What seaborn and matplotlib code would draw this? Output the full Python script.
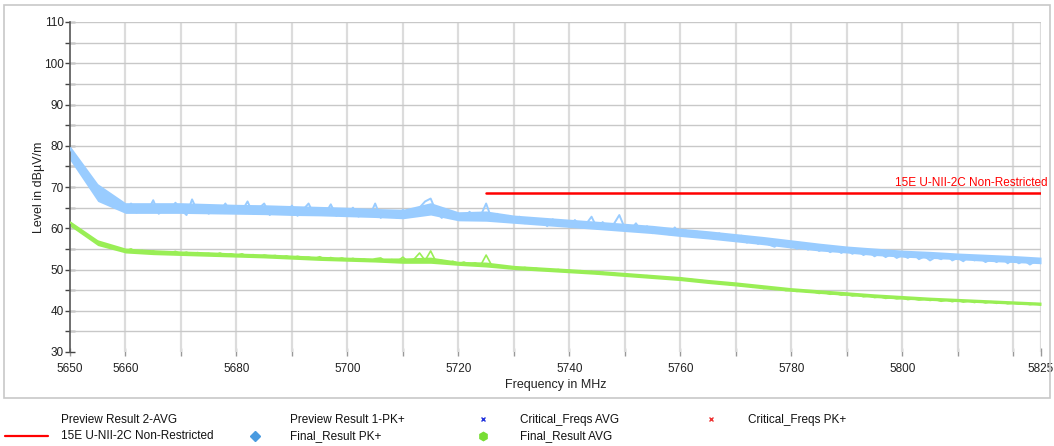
import numpy as np
import pandas as pd
import matplotlib
matplotlib.use("Agg")
import matplotlib.pyplot as plt
from matplotlib.lines import Line2D
from matplotlib.patches import Rectangle
import seaborn as sns

# ---------------- data ----------------
freq_start = 5650
freq_stop = 5825
freq_step = 1

pk_values = [
    79.5, 76.5, 75.0, 73.0, 71.5, 69.0, 67.5, 66.0, 65.0, 66.5,
    64.0, 66.0, 63.8, 65.5, 64.2, 66.8, 63.5, 65.0, 64.0, 66.2,
    64.5, 63.2, 67.0, 64.0, 65.5, 63.5, 65.2, 64.0, 66.0, 63.8,
    65.0, 64.2, 66.5, 63.5, 64.8, 66.0, 63.2, 65.0, 64.0, 63.5,
    65.5, 63.0, 64.5, 66.0, 63.2, 64.8, 63.5, 65.8, 63.0, 64.2,
    63.5, 65.0, 62.8, 64.5, 63.0, 66.0, 62.5, 64.0, 63.2, 62.5,
    64.5, 62.8, 63.5, 65.0, 66.5, 67.2, 64.0, 62.5, 64.0, 62.8,
    63.5, 62.0, 64.0, 62.5, 63.0, 66.0, 62.2, 63.5, 61.8, 63.0,
    61.5, 62.8, 61.2, 62.5, 61.0, 62.0, 60.5, 62.2, 60.8, 61.5,
    60.5, 62.0, 60.2, 61.0, 62.8, 60.0, 61.5, 59.8, 61.0, 63.2,
    60.0, 59.5, 61.2, 59.2, 60.5, 58.8, 60.0, 59.0, 58.5, 60.2,
    58.5, 59.5, 58.0, 59.2, 57.8, 58.5, 57.5, 58.8, 57.2, 58.0,
    57.0, 58.2, 56.5, 57.5, 56.2, 57.2, 56.0, 55.5, 57.0, 55.8,
    56.2, 55.0, 56.0, 54.8, 55.8, 54.5, 55.2, 54.2, 55.0, 54.0,
    54.8, 53.8, 54.5, 53.5, 54.2, 53.2, 54.0, 53.0, 53.8, 52.8,
    53.5, 52.8, 53.8, 52.5, 53.2, 52.2, 53.0, 52.5, 53.5, 52.2,
    52.8, 52.0, 53.2, 52.2, 52.8, 51.8, 52.5, 51.8, 52.8, 51.5,
    52.5, 51.5, 52.2, 51.2, 52.0, 51.5,
]

avg_values = [
    61.5, 60.0, 59.0, 58.2, 57.2, 56.8, 56.0, 55.8, 55.2, 55.0,
    54.5, 55.0, 54.2, 54.6, 54.0, 54.5, 53.8, 54.3, 54.0, 54.4,
    53.8, 54.2, 53.6, 54.1, 53.7, 53.9, 53.4, 54.0, 53.5, 53.8,
    53.4, 53.8, 53.2, 53.6, 53.0, 53.5, 53.2, 53.4, 52.9, 53.3,
    52.8, 53.2, 52.9, 53.0, 52.6, 53.1, 52.5, 52.9, 52.4, 52.8,
    52.3, 52.7, 52.2, 52.5, 52.0, 52.6, 52.8, 51.9, 52.4, 52.0,
    53.0, 51.8, 52.5, 54.0, 52.2, 54.5, 51.8, 52.2, 51.5, 52.0,
    51.4, 51.8, 51.2, 51.6, 51.0, 53.5, 51.0, 50.6, 50.8, 50.3,
    50.6, 50.2, 50.5, 50.0, 50.3, 49.9, 50.1, 49.7, 50.0, 49.6,
    49.8, 49.4, 49.7, 49.2, 49.5, 49.0, 49.3, 48.9, 49.1, 48.7,
    48.9, 48.5, 48.7, 48.3, 48.5, 48.1, 48.2, 47.9, 48.0, 47.7,
    48.0, 47.5, 47.6, 47.2, 47.3, 46.9, 47.0, 46.6, 46.7, 46.3,
    46.5, 46.0, 46.2, 45.7, 45.9, 45.4, 45.6, 45.2, 45.3, 44.9,
    45.0, 44.7, 44.9, 44.5, 44.6, 44.2, 44.4, 44.0, 44.2, 43.8,
    44.0, 43.6, 43.8, 43.4, 43.6, 43.2, 43.4, 43.0, 43.2, 42.9,
    43.1, 42.7, 42.9, 42.6, 42.8, 42.5, 42.7, 42.3, 42.6, 42.2,
    42.5, 42.1, 42.4, 42.0, 42.3, 41.9, 42.2, 41.8, 42.1, 41.7,
    41.9, 41.6, 41.8, 41.5, 41.7, 41.4,
]

# noise-band envelopes read every 5 MHz
band_step = 5
pk_band_lo = [76.5, 66.5, 63.6, 63.6, 63.6, 63.5, 63.4, 63.3, 63.1, 63.0,
              62.8, 62.6, 62.3, 63.2, 61.8, 61.7, 61.2, 60.7, 60.2, 59.7,
              59.2, 58.7, 58.0, 57.4, 56.7, 56.0, 55.2, 54.5, 54.0, 53.4,
              53.0, 52.7, 52.4, 52.0, 51.7, 51.4]
pk_band_hi = [80.0, 70.8, 66.2, 66.2, 66.2, 66.0, 65.8, 65.7, 65.5, 65.3,
              65.1, 64.8, 64.6, 66.2, 64.0, 64.2, 63.2, 62.7, 62.2, 61.7,
              61.2, 60.7, 60.0, 59.4, 58.7, 58.0, 57.2, 56.4, 55.7, 55.2,
              54.7, 54.4, 54.0, 53.7, 53.4, 53.0]
avg_band_lo = [60.5, 55.8, 54.0, 53.6, 53.4, 53.2, 53.0, 52.8, 52.5, 52.2,
               52.0, 51.8, 51.5, 51.5, 51.0, 50.6, 50.0, 49.6, 49.2, 48.8,
               48.3, 47.8, 47.3, 46.6, 46.0, 45.3, 44.7, 44.2, 43.7, 43.2,
               42.8, 42.5, 42.2, 41.9, 41.6, 41.3]
avg_band_hi = [61.8, 57.2, 55.2, 54.8, 54.5, 54.3, 54.0, 53.8, 53.5, 53.2,
               53.0, 52.8, 52.8, 53.0, 52.0, 51.8, 51.0, 50.6, 50.2, 49.8,
               49.3, 48.8, 48.3, 47.6, 47.0, 46.3, 45.6, 45.1, 44.6, 44.1,
               43.7, 43.3, 43.0, 42.7, 42.4, 42.1]

limit_freqs = [5725, 5825]
limit_levels = [68.5, 68.5]
limit_name = "15E U-NII-2C Non-Restricted"

x_tick_values = [5650, 5660, 5670, 5680, 5690, 5700, 5710, 5720, 5730, 5740,
                 5750, 5760, 5770, 5780, 5790, 5800, 5810, 5820, 5825]
x_tick_labels = ["5650", "5660", "", "5680", "", "5700", "", "5720", "", "5740",
                 "", "5760", "", "5780", "", "5800", "", "", "5825"]
y_major = [30, 40, 50, 60, 70, 80, 90, 100, 110]
y_minor = [35, 45, 55, 65, 75, 85, 95, 105]

legend_row1 = ["Preview Result 2-AVG", "Preview Result 1-PK+", "Critical_Freqs AVG", "Critical_Freqs PK+"]
legend_row2 = [limit_name, "Final_Result PK+", "Final_Result AVG", ""]

# ---------------- style ----------------
sns.set_theme(style="white")
plt.rcParams["font.family"] = ["Liberation Sans", "DejaVu Sans"]

PK_COLOR = "#99ccff"
AVG_COLOR = "#99ee55"

freqs = np.arange(freq_start, freq_stop + freq_step, freq_step)
band_freqs = np.arange(freq_start, freq_stop + band_step, band_step)
df = pd.DataFrame({"freq": freqs, "pk": pk_values, "avg": avg_values})
lim = pd.DataFrame({"freq": limit_freqs, "level": limit_levels})

W, H = 1054, 446
fig = plt.figure(figsize=(W / 100, H / 100), dpi=100)
ax = fig.add_axes([70 / W, 1 - 352 / H, (1041 - 70) / W, (352 - 22) / H])

# outer frame
fig.add_artist(Rectangle((4 / W, 1 - 398 / H), (1050 - 4) / W, (398 - 5) / H,
                         transform=fig.transFigure, fill=False,
                         edgecolor="#c8c8c8", lw=1.2))

ax.fill_between(band_freqs, pk_band_lo, pk_band_hi, color=PK_COLOR, lw=0, zorder=2)
ax.fill_between(band_freqs, avg_band_lo, avg_band_hi, color=AVG_COLOR, lw=0, zorder=2)
sns.lineplot(data=df, x="freq", y="pk", ax=ax, color=PK_COLOR, lw=1.4, zorder=3)
sns.lineplot(data=df, x="freq", y="avg", ax=ax, color=AVG_COLOR, lw=1.2, zorder=3)
sns.lineplot(data=lim, x="freq", y="level", ax=ax, color="#ff0000", lw=1.8, zorder=4)

ax.set_xlim(freq_start, freq_stop)
ax.set_ylim(30, 110)

ax.set_xticks(x_tick_values)
ax.set_xticklabels(x_tick_labels, fontsize=8.5, color="#222222")
ax.set_yticks(y_major)
ax.set_yticklabels([str(v) for v in y_major], fontsize=8.5, color="#222222")
ax.set_yticks(y_minor, minor=True)

# grid
for xv in x_tick_values[1:]:
    ax.axvline(xv, color="#dcdcdc", lw=1.6, zorder=1)
for yv in y_major[1:] + y_minor:
    ax.axhline(yv, color="#c8c8c8", lw=1.0, zorder=1)

for s in ["top", "right", "bottom"]:
    ax.spines[s].set_visible(False)
ax.spines["left"].set_color("#555555")
ax.spines["left"].set_linewidth(1.2)

ax.tick_params(axis="y", which="both", direction="inout", length=7, width=1,
               color="#444444", pad=1, left=True)
ax.tick_params(axis="x", which="both", direction="inout", length=6, width=1,
               color="#999999", pad=5, bottom=True)

ax.set_xlabel("Frequency in MHz", fontsize=9, color="#222222", labelpad=3)
ax.set_ylabel("Level in dBµV/m", fontsize=9, color="#222222", labelpad=-1)

ax.text(1.007, 68.5 + 0.9, limit_name, transform=ax.get_yaxis_transform(),
        ha="right", va="bottom", fontsize=8.5, color="#ff0000", clip_on=False)

# ---------------- legend (manual, figure coords) ----------------
row_y = [1 - 420 / H, 1 - 436 / H]
text_x = [61, 290, 520, 748]
sym_x = [None, 255, 483, 708]

for i, lab in enumerate(legend_row1):
    fig.text(text_x[i] / W, row_y[0], lab, fontsize=8.5, va="center", ha="left", color="#111111")
for i, lab in enumerate(legend_row2):
    if lab:
        fig.text(text_x[i] / W, row_y[1], lab, fontsize=8.5, va="center", ha="left", color="#111111")

fig.add_artist(Line2D([5 / W, 48 / W], [row_y[1], row_y[1]], transform=fig.transFigure,
                      color="#ff0000", lw=1.6))
fig.add_artist(Line2D([sym_x[1] / W], [row_y[1]], transform=fig.transFigure,
                      marker="D", markersize=5, color="#4a9be0", lw=0))
fig.add_artist(Line2D([sym_x[2] / W], [row_y[1]], transform=fig.transFigure,
                      marker="h", markersize=6, color="#77dd33", lw=0))
fig.add_artist(Line2D([sym_x[2] / W], [row_y[0] + 0.003], transform=fig.transFigure,
                      marker="x", markersize=3.5, color="#2233dd", lw=0, markeredgewidth=1))
fig.add_artist(Line2D([(sym_x[3] + 3) / W], [row_y[0] + 0.003], transform=fig.transFigure,
                      marker="x", markersize=3.5, color="#ee3333", lw=0, markeredgewidth=1))

fig.savefig("out.png", dpi=100)
